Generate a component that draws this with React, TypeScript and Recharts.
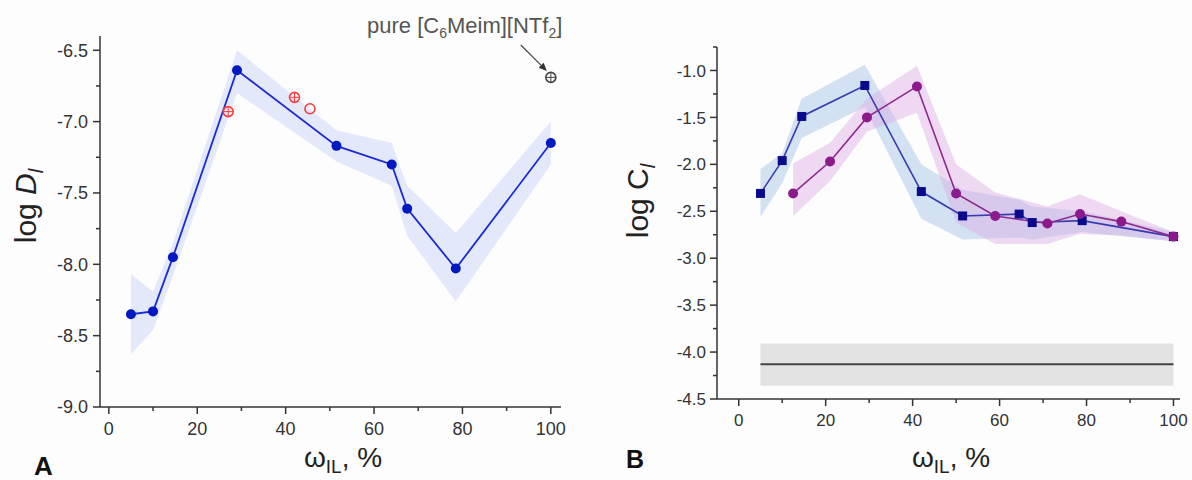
import React from "react";
import {
  ComposedChart,
  Line,
  Area,
  Scatter,
  XAxis,
  YAxis,
  ReferenceArea,
  ReferenceLine,
} from "recharts";

// panel A: log D vs IL content
const wA = [5, 10, 14.5, 29, 51.5, 64, 67.5, 78.5, 100];
const logD = [-8.35, -8.33, -7.95, -6.64, -7.17, -7.3, -7.61, -8.03, -7.15];
const logDHigh = [-8.07, -8.19, -7.85, -6.5, -7.06, -7.15, -7.45, -7.78, -7.0];
const logDLow = [-8.63, -8.46, -8.08, -6.8, -7.28, -7.45, -7.8, -8.26, -7.3];

// literature points (red) and pure IL (grey)
const litX = [27, 42];
const litY = [-6.93, -6.83];
const litOpenX = [45.5];
const litOpenY = [-6.91];
const pureX = [100];
const pureY = [-6.69];

// panel B: log C, two series
const wBlue = [5, 10, 14.5, 29, 42, 51.5, 64.5, 67.5, 79, 100];
const logCBlue = [-2.31, -1.96, -1.49, -1.16, -2.29, -2.55, -2.53, -2.62, -2.6, -2.77];
const blueHigh = [-2.05, -1.88, -1.3, -0.94, -2.0, -2.27, -2.38, -2.45, -2.5, -2.72];
const blueLow = [-2.56, -2.2, -1.72, -1.39, -2.58, -2.8, -2.78, -2.8, -2.72, -2.82];

const wPurple = [12.5, 21, 29.5, 41, 50, 59, 71, 78.5, 88, 100];
const logCPurple = [-2.31, -1.97, -1.5, -1.17, -2.31, -2.55, -2.63, -2.53, -2.61, -2.77];
const purpleHigh = [-1.99, -1.77, -1.3, -0.95, -2.0, -2.3, -2.45, -2.32, -2.5, -2.72];
const purpleLow = [-2.55, -2.18, -1.65, -1.45, -2.62, -2.85, -2.85, -2.74, -2.76, -2.82];

// pure IL level in panel B
const pureRange = [5, 100];
const pureC = -4.13;
const pureCBand = [-4.36, -3.91];

const xTicks = [0, 10, 20, 30, 40, 50, 60, 70, 80, 90, 100];
const yTicksA = [-9, -8.75, -8.5, -8.25, -8, -7.75, -7.5, -7.25, -7, -6.75, -6.5];
const yTicksB = [-4.5, -4.25, -4, -3.75, -3.5, -3.25, -3, -2.75, -2.5, -2.25, -2, -1.75, -1.5, -1.25, -1, -0.75];

const FONT = "'Liberation Sans', Arial, sans-serif";
const AXIS = "#333";

const dataA = wA.map((w, i) => ({ w, d: logD[i], band: [logDLow[i], logDHigh[i]] }));
const pts = (xs: number[], ys: number[]) => xs.map((w, i) => ({ w, v: ys[i] }));

const buildB = () => {
  const xs = Array.from(new Set([...wBlue, ...wPurple])).sort((a, b) => a - b);
  return xs.map((w) => {
    const i = wBlue.indexOf(w);
    const j = wPurple.indexOf(w);
    return {
      w,
      blue: i >= 0 ? logCBlue[i] : null,
      blueBand: i >= 0 ? [blueLow[i], blueHigh[i]] : null,
      purple: j >= 0 ? logCPurple[j] : null,
      purpleBand: j >= 0 ? [purpleLow[j], purpleHigh[j]] : null,
    };
  });
};
const dataB = buildB();

const XTick = (props: any) => {
  const { x, y, payload, fs, off } = props;
  const v = payload.value;
  const major = v % 20 === 0;
  return (
    <g>
      <line x1={x} x2={x} y1={y} y2={y + (major ? 7 : 4)} stroke={AXIS} strokeWidth={1.5} />
      {major && (
        <text x={x} y={y + off} textAnchor="middle" fontSize={fs} fill="#333" fontFamily={FONT}>
          {v}
        </text>
      )}
    </g>
  );
};

const YTick = (props: any) => {
  const { x, y, payload, fs, off } = props;
  const v = payload.value;
  const major = Math.abs(v * 2 - Math.round(v * 2)) < 1e-6;
  return (
    <g>
      <line x1={x} x2={x - (major ? 7 : 4)} y1={y} y2={y} stroke={AXIS} strokeWidth={1.5} />
      {major && (
        <text x={x - off} y={y} dy="0.36em" textAnchor="end" fontSize={fs} fill="#333" fontFamily={FONT}>
          {v.toFixed(1)}
        </text>
      )}
    </g>
  );
};

const CrossCircle = ({ cx, cy, color, cross }: any) =>
  cx == null || cy == null ? <g /> : (
    <g>
      <circle cx={cx} cy={cy} r={5} fill="none" stroke={color} strokeWidth={1.6} />
      {cross && (
        <>
          <line x1={cx - 5} x2={cx + 5} y1={cy} y2={cy} stroke={color} strokeWidth={1} />
          <line x1={cx} x2={cx} y1={cy - 5} y2={cy + 5} stroke={color} strokeWidth={1} />
        </>
      )}
    </g>
  );

const SquareDot = (props: any) => {
  const { cx, cy } = props;
  if (cx == null || cy == null) return <g key={props.key} />;
  return <rect key={props.key} x={cx - 4.5} y={cy - 4.5} width={9} height={9} fill="#0a0a8c" />;
};

const RoundDot = (props: any) => {
  const { cx, cy } = props;
  if (cx == null || cy == null) return <g key={props.key} />;
  return <circle key={props.key} cx={cx} cy={cy} r={5} fill="#8b1a8b" />;
};

const Arrow = (props: any) => {
  const { x1, y1, x2, y2 } = props;
  const a = Math.atan2(y2 - y1, x2 - x1);
  const L = 8;
  const W = 3.5;
  const bx = x2 - L * Math.cos(a);
  const by = y2 - L * Math.sin(a);
  const px = -Math.sin(a) * W;
  const py = Math.cos(a) * W;
  return (
    <g>
      <line x1={x1} y1={y1} x2={bx} y2={by} stroke="#444" strokeWidth={1.2} />
      <polygon points={`${x2},${y2} ${bx + px},${by + py} ${bx - px},${by - py}`} fill="#333" />
    </g>
  );
};

const abs = (style: React.CSSProperties): React.CSSProperties => ({
  position: "absolute",
  fontFamily: FONT,
  color: "#222",
  whiteSpace: "nowrap",
  lineHeight: 1,
  ...style,
});

export default function App() {
  return (
    <div style={{ position: "absolute", left: 0, top: 0, width: 1192, height: 480, background: "#fdfdfd", overflow: "hidden" }}>
      <div style={{ position: "absolute", left: 0, top: 0 }}>
        <ComposedChart width={600} height={480} data={dataA} margin={{ top: 36, right: 39, bottom: 33, left: 0 }}>
          <XAxis
            dataKey="w"
            type="number"
            domain={[-2, 102.3]}
            ticks={xTicks}
            interval={0}
            allowDataOverflow
            height={40}
            tickSize={0}
            tickMargin={0}
            axisLine={{ stroke: AXIS, strokeWidth: 1.5 }}
            tick={(p: any) => <XTick {...p} fs={18} off={28} />}
          />
          <YAxis
            type="number"
            domain={[-9, -6.4]}
            ticks={yTicksA}
            interval={0}
            allowDataOverflow
            width={100}
            tickSize={0}
            tickMargin={0}
            axisLine={{ stroke: AXIS, strokeWidth: 1.5 }}
            tick={(p: any) => <YTick {...p} fs={18} off={12} />}
          />
          <Area dataKey="band" type="linear" fill="#e4e8fb" fillOpacity={1} stroke="none" isAnimationActive={false} />
          <Line
            dataKey="d"
            type="linear"
            stroke="#1a2ad4"
            strokeWidth={1.8}
            dot={{ r: 5, fill: "#0018c0", stroke: "none" }}
            isAnimationActive={false}
          />
          <Scatter data={pts(litX, litY)} dataKey="v" isAnimationActive={false} shape={(p: any) => <CrossCircle {...p} color="#ff3b3b" cross />} />
          <Scatter data={pts(litOpenX, litOpenY)} dataKey="v" isAnimationActive={false} shape={(p: any) => <CrossCircle {...p} color="#ff3b3b" />} />
          <Scatter data={pts(pureX, pureY)} dataKey="v" isAnimationActive={false} shape={(p: any) => <CrossCircle {...p} color="#444" cross />} />
          <ReferenceLine
            segment={[{ x: 93.2, y: -6.463 }, { x: 99.1, y: -6.645 }]}
            shape={(p: any) => <Arrow {...p} />}
          />
        </ComposedChart>
      </div>

      <div style={{ position: "absolute", left: 600, top: 0 }}>
        <ComposedChart width={592} height={480} data={dataB} margin={{ top: 47, right: 12, bottom: 41, left: 0 }}>
          <XAxis
            dataKey="w"
            type="number"
            domain={[-5, 101.5]}
            ticks={xTicks}
            interval={0}
            allowDataOverflow
            height={40}
            tickSize={0}
            tickMargin={0}
            axisLine={{ stroke: AXIS, strokeWidth: 1.5 }}
            tick={(p: any) => <XTick {...p} fs={17} off={27} />}
          />
          <YAxis
            type="number"
            domain={[-4.5, -0.75]}
            ticks={yTicksB}
            interval={0}
            allowDataOverflow
            width={117}
            tickSize={0}
            tickMargin={0}
            axisLine={{ stroke: AXIS, strokeWidth: 1.5 }}
            tick={(p: any) => <YTick {...p} fs={17} off={11} />}
          />
          <ReferenceArea x1={pureRange[0]} x2={pureRange[1]} y1={pureCBand[0]} y2={pureCBand[1]} fill="#e3e3e3" fillOpacity={1} stroke="none" />
          <ReferenceLine
            segment={[{ x: pureRange[0], y: pureC }, { x: pureRange[1], y: pureC }]}
            stroke="#444"
            strokeWidth={2}
          />
          <Area dataKey="blueBand" type="linear" connectNulls fill="#a8c8e8" fillOpacity={0.5} stroke="none" isAnimationActive={false} />
          <Area dataKey="purpleBand" type="linear" connectNulls fill="#dcaae4" fillOpacity={0.45} stroke="none" isAnimationActive={false} />
          <Line dataKey="blue" type="linear" connectNulls stroke="#3a3ab0" strokeWidth={1.6} dot={SquareDot} isAnimationActive={false} />
          <Line dataKey="purple" type="linear" connectNulls stroke="#8e2a8e" strokeWidth={1.6} dot={RoundDot} isAnimationActive={false} />
        </ComposedChart>
      </div>

      {/* annotation and axis titles */}
      <div style={abs({ left: 367, top: 15, fontSize: 22, color: "#555" })}>
        pure [C<sub style={{ fontSize: 14 }}>6</sub>Meim][NTf<sub style={{ fontSize: 14 }}>2</sub>]
      </div>

      <div style={abs({ left: 28, top: 206, fontSize: 30, transform: "translate(-50%, -50%) rotate(-90deg)" })}>
        log <i>D</i>
        <sub style={{ fontSize: 20 }}>
          <i>l</i>
        </sub>
      </div>
      <div style={abs({ left: 343, top: 460, fontSize: 28, transform: "translate(-50%, -50%)" })}>
        ω<sub style={{ fontSize: 19 }}>IL</sub>, %
      </div>
      <div style={abs({ left: 34, top: 453, fontSize: 26, fontWeight: 700, color: "#111" })}>A</div>

      <div style={abs({ left: 640, top: 201, fontSize: 30, transform: "translate(-50%, -50%) rotate(-90deg)" })}>
        log C
        <sub style={{ fontSize: 20 }}>
          <i>l</i>
        </sub>
      </div>
      <div style={abs({ left: 951, top: 460, fontSize: 28, transform: "translate(-50%, -50%)" })}>
        ω<sub style={{ fontSize: 19 }}>IL</sub>, %
      </div>
      <div style={abs({ left: 626, top: 447, fontSize: 25, fontWeight: 700, color: "#111" })}>B</div>
    </div>
  );
}
